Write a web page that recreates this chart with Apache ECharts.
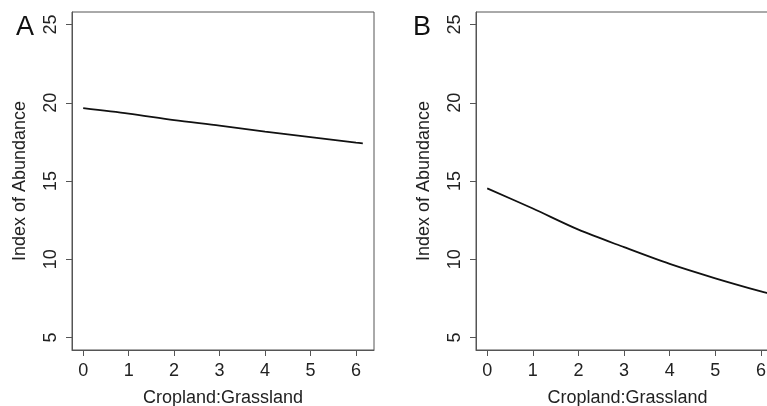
<!DOCTYPE html>
<html>
<head>
<meta charset="utf-8">
<script src="https://cdn.jsdelivr.net/npm/echarts@6/dist/echarts.min.js"></script>
<style>
    html, body { margin: 0; padding: 0; overflow: hidden; background: #fff; }
    #chart { width: 790px; height: 406px; }
</style>
</head>
<body>
<div id="chart"></div>
<script>
    // values
    const ratio = [0, 1, 2, 3, 4, 5, 6, 6.15];
    const abundanceA = [19.66, 19.31, 18.89, 18.54, 18.15, 17.81, 17.45, 17.41];
    const abundanceB = [14.53, 13.24, 11.89, 10.77, 9.70, 8.78, 7.94, 7.84];
    const xTicks = [0, 1, 2, 3, 4, 5, 6];
    const yTicks = [5, 10, 15, 20, 25];

    const font = 'Liberation Sans, Arial, sans-serif';
    const textColor = '#222';
    const boxColor = '#555';

    function xAxis(gridIndex) {
        return {
            type: 'value', gridIndex: gridIndex, position: 'bottom',
            min: -0.246, max: 6.396,
            name: 'Cropland:Grassland', nameLocation: 'middle', nameGap: 39,
            nameTextStyle: { fontFamily: font, fontSize: 18, color: textColor },
            axisLine: { show: true, onZero: false, lineStyle: { color: boxColor, width: 1 } },
            axisTick: { show: true, inside: false, length: 6, lineStyle: { color: boxColor, width: 1 }, customValues: xTicks },
            axisLabel: { fontFamily: font, fontSize: 18, color: textColor, margin: 12, customValues: xTicks },
            splitLine: { show: false }
        };
    }

    function yAxis(gridIndex) {
        return {
            type: 'value', gridIndex: gridIndex, position: 'left',
            min: 4.2, max: 25.8,
            name: 'Index of Abundance', nameLocation: 'middle', nameGap: 43,
            nameTextStyle: { fontFamily: font, fontSize: 18, color: textColor },
            axisLine: { show: true, onZero: false, lineStyle: { color: boxColor, width: 1 } },
            axisTick: { show: true, inside: false, length: 6, lineStyle: { color: boxColor, width: 1 }, customValues: yTicks },
            axisLabel: { fontFamily: font, fontSize: 18, color: textColor, rotate: 90, margin: 12, customValues: yTicks },
            splitLine: { show: false }
        };
    }

    function series(idx, values) {
        return {
            type: 'line', xAxisIndex: idx, yAxisIndex: idx,
            data: ratio.map((x, i) => [x, values[i]]),
            showSymbol: false, smooth: 0.3,
            lineStyle: { color: '#111', width: 1.8 },
            silent: true
        };
    }

    const chart = echarts.init(document.getElementById('chart'));
    chart.setOption({
        animation: false,
        title: [
            { text: 'A', left: 11, top: 9, textStyle: { fontFamily: font, fontSize: 27, fontWeight: 'normal', color: '#111' } },
            { text: 'B', left: 408, top: 9, textStyle: { fontFamily: font, fontSize: 27, fontWeight: 'normal', color: '#111' } }
        ],
        grid: [
            { left: 72, top: 12, width: 302, height: 338, outerBoundsMode: 'none', show: true, borderColor: boxColor, borderWidth: 1, backgroundColor: 'transparent' },
            { left: 476, top: 12, width: 303, height: 338, outerBoundsMode: 'none', show: true, borderColor: boxColor, borderWidth: 1, backgroundColor: 'transparent' }
        ],
        xAxis: [xAxis(0), xAxis(1)],
        yAxis: [yAxis(0), yAxis(1)],
        series: [series(0, abundanceA), series(1, abundanceB)]
    });
</script>
</body>
</html>
